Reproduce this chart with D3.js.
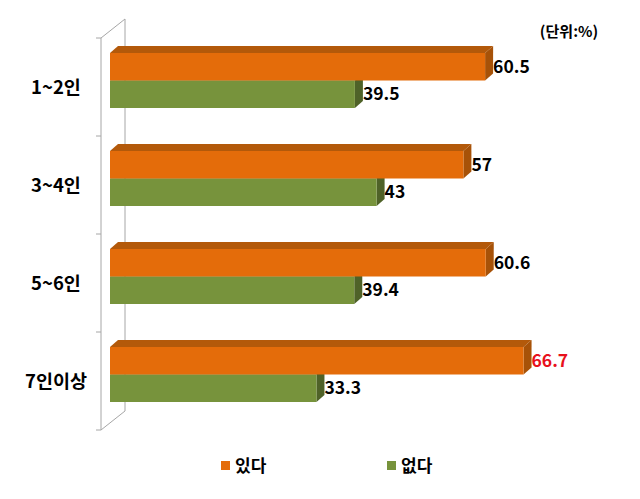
<!DOCTYPE html>
<html><head><meta charset="utf-8">
<script src="https://cdn.jsdelivr.net/npm/d3@7"></script>
<style>body{margin:0;background:#fff}</style>
</head><body>
<svg id="c" width="640" height="499"></svg>
<script>
const categories = ["1~2인", "3~4인", "5~6인", "7인이상"];
const seriesNames = ["있다", "없다"];
const yesValues = [60.5, 57, 60.6, 66.7];
const noValues = [39.5, 43, 39.4, 33.3];
const unitLabel = "(단위:%)";

const svg = d3.select("#c");
const font = "'Noto Sans CJK KR','Malgun Gothic',sans-serif";
const x = d3.scaleLinear().domain([0, 80]).range([110, 606]);
const y = d3.scaleBand().domain(categories).range([38, 430]);
const ddx = 24, ddy = -19; // wall depth
const bdx = 8, bdy = -7;   // bar depth
const barH = 27.5;

const colors = {
  yes: {front: "#e46c0a", top: "#b3590a", side: "#a75208"},
  no: {front: "#77933c", top: "#5f7630", side: "#4f6228"}
};

// axis walls
const ax = 101;
const g = svg.append("g").attr("stroke", "#a6a6a6").attr("fill", "none").attr("stroke-width", 1);
g.append("line").attr("x1", ax).attr("y1", y.range()[0]).attr("x2", ax).attr("y2", y.range()[1]);
g.append("line").attr("x1", ax + ddx).attr("y1", y.range()[0] + ddy).attr("x2", ax + ddx).attr("y2", y.range()[1] + ddy);
g.append("line").attr("x1", ax).attr("y1", y.range()[0]).attr("x2", ax + ddx).attr("y2", y.range()[0] + ddy);
g.append("line").attr("x1", ax).attr("y1", y.range()[1]).attr("x2", ax + ddx).attr("y2", y.range()[1] + ddy);
const tickYs = categories.map(c => y(c)).concat([y.range()[1]]);
tickYs.forEach(t => g.append("line").attr("x1", ax - 5).attr("y1", t).attr("x2", ax).attr("y2", t));

function bar3d(x0, x1, y0, h, col) {
  const b = svg.append("g");
  b.append("path").attr("fill", col.top)
    .attr("d", `M${x0},${y0}L${x0 + bdx},${y0 + bdy}L${x1 + bdx},${y0 + bdy}L${x1},${y0}Z`);
  b.append("path").attr("fill", col.side)
    .attr("d", `M${x1},${y0}L${x1 + bdx},${y0 + bdy}L${x1 + bdx},${y0 + h + bdy}L${x1},${y0 + h}Z`);
  b.append("rect").attr("fill", col.front).attr("x", x0).attr("y", y0).attr("width", x1 - x0).attr("height", h);
}

categories.forEach((c, i) => {
  const top = y(c) + 15;
  bar3d(x(0), x(noValues[i]), top + barH, barH, colors.no);
  bar3d(x(0), x(yesValues[i]), top, barH, colors.yes);
  const maxYes = d3.max(yesValues);
  svg.append("text").attr("x", x(yesValues[i]) + bdx).attr("y", top + barH / 2 + 1)
    .attr("dominant-baseline", "middle").attr("font-family", font).attr("font-weight", "bold")
    .attr("font-size", 17.5).attr("fill", yesValues[i] === maxYes ? "#e8111c" : "#000")
    .text(yesValues[i]);
  svg.append("text").attr("x", x(noValues[i]) + bdx).attr("y", top + barH * 1.5 + 1)
    .attr("dominant-baseline", "middle").attr("font-family", font).attr("font-weight", "bold")
    .attr("font-size", 17.5).attr("fill", "#000").text(noValues[i]);
  svg.append("text").attr("x", 56).attr("y", y(c) + 51)
    .attr("text-anchor", "middle").attr("dominant-baseline", "middle")
    .attr("font-family", font).attr("font-weight", "bold").attr("font-size", 18.5)
    .attr("fill", "#000").text(c);
});

svg.append("text").attr("x", 569).attr("y", 33).attr("text-anchor", "middle")
  .attr("dominant-baseline", "middle").attr("font-family", font).attr("font-weight", "bold")
  .attr("font-size", 15).attr("fill", "#000").text(unitLabel);

// legend
const legendX = [221, 387];
const legendCols = [colors.yes.front, colors.no.front];
seriesNames.forEach((s, i) => {
  svg.append("rect").attr("x", legendX[i]).attr("y", 461).attr("width", 9).attr("height", 9).attr("fill", legendCols[i]);
  svg.append("text").attr("x", legendX[i] + 14).attr("y", 467).attr("dominant-baseline", "middle")
    .attr("font-family", font).attr("font-weight", "bold").attr("font-size", 17).attr("fill", "#000").text(s);
});
</script>
</body></html>
